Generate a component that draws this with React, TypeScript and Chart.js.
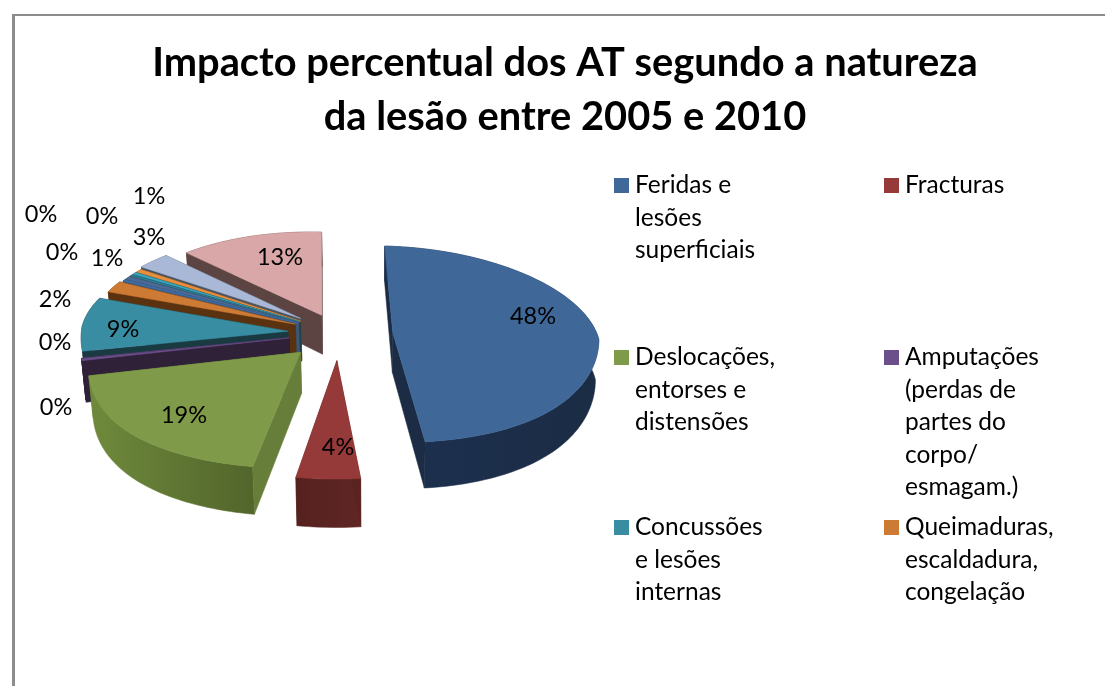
import React, { useEffect, useRef } from "react";
import { Chart, registerables } from "chart.js";

Chart.register(...registerables);

const TITLE_LINES = ["Impacto percentual dos AT segundo a natureza", "da lesão entre 2005 e 2010"];
const CATEGORIES = [
  "Feridas e lesões superficiais", "Fracturas", "Deslocações, entorses e distensões",
  "Amputações (perdas de partes do corpo/ esmagam.)", "Outras lesões (a)",
  "Concussões e lesões internas", "Queimaduras, escaldadura, congelação",
  "Outras (b)", "Outras (c)", "Outras (d)", "Outras (e)", "Outras (f)", "Outras (g)", "Outras (h)",
];
const VALUES = [48, 4, 19, 0.3, 0.03, 9, 2, 0.3, 0.6, 0.3, 0.4, 0.6, 3, 13];
const EXPLODE = [55, 57, 55, 50, 50, 50, 46, 44, 44, 44, 44, 44, 48, 41];

const TOP_COLORS = ["#3f6899", "#953a38", "#7f9a48", "#6a4f8b", "#6a4f8b", "#398da3", "#cc7a34", "#3e6ea8", "#4a6a94", "#2d7f94", "#3aa6bd", "#e98f3c", "#a9b8d6", "#d9a7a7"];
const RIM_FROM = ["#1b2c44", "#5f2624", "#6f8a3c", "#2e2138", "#2e2138", "#1a3a42", "#5a3210", "#22364f", "#2d3f58", "#1d4550", "#1d4550", "#6a3d12", "#4c5461", "#5b4441"];
const RIM_TO = ["#1c3050", "#55211f", "#52652b", "#2e2138", "#2e2138", "#1a3a42", "#5a3210", "#22364f", "#2d3f58", "#1d4550", "#1d4550", "#6a3d12", "#4c5461", "#5b4441"];
const SIDE_COLORS = ["#1b2c44", "#5a2320", "#677e3b", "#2e2138", "#2e2138", "#1a3a42", "#5a3210", "#3a5878", "#2d3f58", "#1d4550", "#1d4550", "#6a3d12", "#4c5461", "#5b4441"];

const LABEL_POINTS: [number, number][] = [
  [533, 316], [338, 447], [184, 415], [56, 407], [55, 342], [123, 329], [55, 299],
  [62, 252], [107, 258], [41, 214], [102, 216], [149, 196], [149, 237], [280, 257],
];

const LEGEND_ENTRIES: { lines: string[]; color: string }[] = [
  { lines: ["Feridas e", "lesões", "superficiais"], color: TOP_COLORS[0] },
  { lines: ["Fracturas"], color: TOP_COLORS[1] },
  { lines: ["Deslocações,", "entorses e", "distensões"], color: TOP_COLORS[2] },
  { lines: ["Amputações", "(perdas de", "partes do", "corpo/", "esmagam.)"], color: TOP_COLORS[3] },
  { lines: ["Concussões", "e lesões", "internas"], color: TOP_COLORS[5] },
  { lines: ["Queimaduras,", "escaldadura,", "congelação"], color: TOP_COLORS[6] },
];
const LEGEND_COLS = [614, 884];
const LEGEND_ROWS = [185.5, 357.5, 527.5];
const LEGEND_LINE = 32.4;

const FONT = "Lato";
const RADIUS = 206;
const VANISH_NEAR = 372;
const VANISH_FAR = 320;
const PERSPECTIVE = 0.12;
const TILT = 97;
const ROLL = 5;
const BOW = 5;
const DEPTH = 40;
const PIE_X = 338;
const PIE_Y = 333;

type Pt = [number, number];

const pie3d = {
  id: "pie3d",
  beforeDatasetsDraw(chart: any) {
    const ctx: CanvasRenderingContext2D = chart.ctx;
    const arcs = chart.getDatasetMeta(0).data as any[];
    const project = (u: number, w: number, r: number): Pt => {
      const v = w / r;
      const sy = 1 / (1 - PERSPECTIVE * v);
      const sx = v < 0 ? 1 + 0.11 * v : 1 + 0.04 * v + 0.13 * v * v;
      const vanish = v < 0 ? VANISH_FAR : VANISH_NEAR;
      const x = vanish + (PIE_X + u - vanish) * sx - (v > 0 ? BOW * v : 0);
      return [x, PIE_Y + TILT * v * sy + (ROLL * (x - PIE_X)) / r];
    };
    const lower = (p: Pt): Pt => {
      const v = (p[1] - PIE_Y) / TILT;
      return [VANISH_NEAR + (p[0] - VANISH_NEAR) * 0.985, p[1] + DEPTH * (1 + 0.14 * v)];
    };
    const order = arcs
      .map((_, i) => i)
      .sort((a, b) => {
        const ma = (arcs[a].startAngle + arcs[a].endAngle) / 2;
        const mb = (arcs[b].startAngle + arcs[b].endAngle) / 2;
        return Math.sin(ma) - Math.sin(mb);
      });
    const fillPoly = (pts: Pt[], fill: any) => {
      ctx.beginPath();
      pts.forEach((p, k) => (k ? ctx.lineTo(p[0], p[1]) : ctx.moveTo(p[0], p[1])));
      ctx.closePath();
      ctx.fillStyle = fill;
      ctx.strokeStyle = fill;
      ctx.lineWidth = 0.5;
      ctx.fill();
      ctx.stroke();
    };
    for (const i of order) {
      const el = arcs[i];
      const r = el.outerRadius;
      const mid = (el.startAngle + el.endAngle) / 2;
      const off = el.options.offset || 0;
      const ou = off * Math.cos(mid);
      const ow = off * Math.sin(mid);
      const steps = Math.max(2, Math.ceil((el.endAngle - el.startAngle) * 40));
      const rim: Pt[] = [];
      for (let k = 0; k <= steps; k++) {
        const a = el.startAngle + ((el.endAngle - el.startAngle) * k) / steps;
        rim.push(project(ou + r * Math.cos(a), ow + r * Math.sin(a), r));
      }
      const apex = project(ou, ow, r);
      const sideA: Pt[] = [apex, rim[0], lower(rim[0]), lower(apex)];
      const sideB: Pt[] = [apex, rim[steps], lower(rim[steps]), lower(apex)];
      const meanY = (pts: Pt[]) => pts.reduce((t, p) => t + p[1], 0) / pts.length;
      const [backSide, frontSide] = meanY(sideA) < meanY(sideB) ? [sideA, sideB] : [sideB, sideA];
      const xs = rim.map((p) => p[0]);
      const grad = ctx.createLinearGradient(Math.min(...xs), 0, Math.max(...xs), 0);
      const rightHalf = Math.cos(mid) > 0;
      grad.addColorStop(0, rightHalf ? RIM_TO[i] : RIM_FROM[i]);
      grad.addColorStop(1, rightHalf ? RIM_FROM[i] : RIM_TO[i]);
      fillPoly(backSide, SIDE_COLORS[i]);
      fillPoly([...rim, ...rim.map(lower).reverse()], grad);
      fillPoly(frontSide, SIDE_COLORS[i]);
      fillPoly([apex, ...rim], TOP_COLORS[i]);
    }
    ctx.save();
    ctx.fillStyle = "#000";
    ctx.font = `23.5px ${FONT}`;
    ctx.textAlign = "center";
    ctx.textBaseline = "middle";
    VALUES.forEach((val, i) => {
      ctx.fillText(`${Math.round(val)}%`, LABEL_POINTS[i][0], LABEL_POINTS[i][1]);
    });
    ctx.font = `24.5px ${FONT}`;
    ctx.textAlign = "left";
    LEGEND_ENTRIES.forEach((entry, i) => {
      const x = LEGEND_COLS[i % 2];
      const y = LEGEND_ROWS[Math.floor(i / 2)];
      ctx.fillStyle = entry.color;
      ctx.fillRect(x, y - 7.5, 15, 15);
      ctx.fillStyle = "#000";
      entry.lines.forEach((line, l) => ctx.fillText(line, x + 21, y + l * LEGEND_LINE));
    });
    ctx.restore();
    return false;
  },
};

export default function App() {
  const ref = useRef<HTMLCanvasElement>(null);
  useEffect(() => {
    const chart = new Chart(ref.current as HTMLCanvasElement, {
      type: "pie",
      data: {
        labels: CATEGORIES,
        datasets: [{ data: VALUES, backgroundColor: TOP_COLORS, offset: EXPLODE, radius: RADIUS, borderWidth: 0 } as any],
      },
      options: {
        responsive: false,
        animation: false,
        layout: { padding: { left: 25 } },
        plugins: {
          legend: { display: false },
          tooltip: { enabled: false },
          title: {
            display: true,
            text: TITLE_LINES,
            color: "#000",
            font: { family: FONT, size: 39.8, weight: "bold", lineHeight: 1.335 },
            padding: { top: 37, bottom: 10 },
          },
        },
      },
      plugins: [pie3d],
    } as any);
    return () => chart.destroy();
  }, []);
  return (
    <div style={{ position: "absolute", left: 0, top: 0, width: 1105, height: 686, overflow: "hidden", background: "#fff" }}>
      <div style={{ position: "absolute", left: 12, top: 14, width: 1100, height: 700, borderLeft: "3px solid #8c8c8c", borderTop: "2px solid #8c8c8c" }} />
      <canvas ref={ref} width={1105} height={686} style={{ position: "absolute", left: 0, top: 0, display: "block" }} />
    </div>
  );
}
